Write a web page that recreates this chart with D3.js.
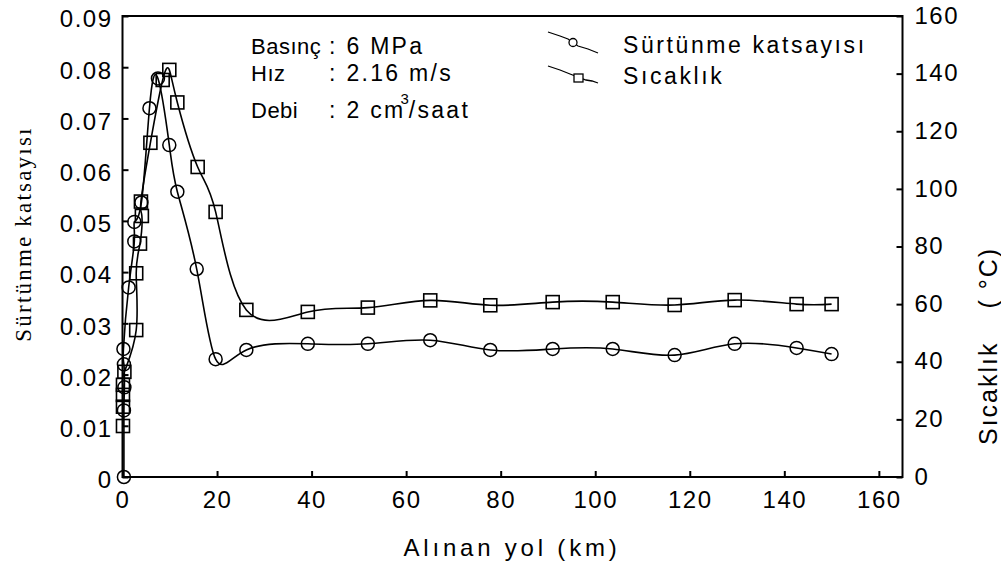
<!DOCTYPE html>
<html>
<head>
<meta charset="utf-8">
<script src="https://cdn.jsdelivr.net/npm/d3@7"></script>
<style>
  body { margin: 0; background: #fff; }
  text { font-family: "Liberation Sans", Arial, sans-serif; fill: #000; }
</style>
</head>
<body>
<svg id="chart" width="1001" height="567"></svg>
<script>
// friction coefficient (circles, left axis)
var kmFriction = [0.3, 0.3, 0.4, 0.3, 0.2, 1.3, 2.5, 2.5, 4.0, 5.7, 7.5, 9.9, 11.6, 15.7, 19.7, 26.2, 39.2, 51.9, 65.1, 77.8, 91.0, 103.7, 116.8, 129.5, 142.6, 150.0];
var friction = [0, 0.013, 0.0175, 0.022, 0.025, 0.037, 0.046, 0.0498, 0.0536, 0.072, 0.0778, 0.0648, 0.0557, 0.0406, 0.0230, 0.0248, 0.0260, 0.0260, 0.0267, 0.0248, 0.0250, 0.0250, 0.0238, 0.0260, 0.0252, 0.0240];

// temperature (squares, right axis)
var kmTemp = [0.1, 0.1, 0.1, 0.1, 0.4, 2.9, 2.9, 3.7, 4.1, 3.9, 5.9, 8.5, 9.9, 11.6, 15.9, 19.7, 26.2, 39.2, 51.9, 65.1, 77.8, 91.0, 103.7, 116.8, 129.5, 142.6, 150.0];
var temp = [17.7, 24.4, 28.5, 32, 36.5, 51, 70.7, 81, 90.6, 95.6, 116, 137.8, 141.3, 130, 107.6, 92, 58, 57.3, 58.8, 61.3, 59.6, 60.7, 60.7, 59.7, 61.4, 60, 60];

var xTicks = [0, 20, 40, 60, 80, 100, 120, 140, 160];
var leftTicks = [0, 0.01, 0.02, 0.03, 0.04, 0.05, 0.06, 0.07, 0.08, 0.09];
var rightTicks = [0, 20, 40, 60, 80, 100, 120, 140, 160];

var infoLabels = ["Basınç", "Hız", "Debi"];
var infoValues = [": 6 MPa", ": 2.16 m/s", ": 2 cm"];
var legendNames = ["Sürtünme katsayısı", "Sıcaklık"];

var svg = d3.select("#chart");

var x = d3.scaleLinear().domain([0, 165]).range([122.5, 902.5]);
var yL = d3.scaleLinear().domain([0, 0.09]).range([477, 16]);
var yR = d3.scaleLinear().domain([0, 160]).range([477, 16]);

// frame
svg.append("rect")
    .attr("x", x(0)).attr("y", yL(0.09))
    .attr("width", x(165) - x(0)).attr("height", yL(0) - yL(0.09))
    .attr("fill", "none").attr("stroke", "#000").attr("stroke-width", 2);

// axes with inward ticks
var axB = svg.append("g").attr("transform", "translate(0," + yL(0) + ")")
    .call(d3.axisBottom(x).tickValues(xTicks).tickSizeInner(-6).tickSizeOuter(0).tickPadding(14));
var axL = svg.append("g").attr("transform", "translate(" + x(0) + ",0)")
    .call(d3.axisLeft(yL).tickValues(leftTicks).tickSizeInner(-6).tickSizeOuter(0).tickPadding(10)
      .tickFormat(function(d) { return d === 0 ? "0" : d3.format(".2f")(d); }));
var axR = svg.append("g").attr("transform", "translate(" + x(165) + ",0)")
    .call(d3.axisRight(yR).tickValues(rightTicks).tickSizeInner(-6).tickSizeOuter(0).tickPadding(12));

[axB, axL, axR].forEach(function(a) {
  a.select(".domain").remove();
  a.selectAll(".tick line").attr("stroke", "#000").attr("stroke-width", 2);
  a.selectAll(".tick text").attr("font-size", 24).attr("font-family", "Liberation Sans, Arial, sans-serif")
    .attr("letter-spacing", 1.5).attr("fill", "#222");
});
axL.selectAll(".tick text").attr("dy", "0.45em");
axR.selectAll(".tick text").attr("dy", "0.3em");

// series
var fPts = kmFriction.map(function(k, i) { return [x(k), yL(friction[i])]; });
var tPts = kmTemp.map(function(k, i) { return [x(k), yR(temp[i])]; });

var line = d3.line().curve(d3.curveNatural);

svg.append("path").attr("d", line(fPts))
    .attr("fill", "none").attr("stroke", "#000").attr("stroke-width", 1.6);
svg.append("path").attr("d", line(tPts))
    .attr("fill", "none").attr("stroke", "#000").attr("stroke-width", 1.6);

svg.selectAll(".fdot").data(fPts).enter().append("circle")
    .attr("class", "fdot")
    .attr("cx", function(d) { return d[0]; }).attr("cy", function(d) { return d[1]; })
    .attr("r", 6.5).attr("fill", "none").attr("stroke", "#000").attr("stroke-width", 1.5);

svg.selectAll(".tsq").data(tPts).enter().append("rect")
    .attr("class", "tsq")
    .attr("x", function(d) { return d[0] - 6.5; }).attr("y", function(d) { return d[1] - 6.5; })
    .attr("width", 13).attr("height", 13)
    .attr("fill", "none").attr("stroke", "#000").attr("stroke-width", 1.6);

// info block
var infoY = [54, 81, 118];
var info = svg.append("g").attr("font-size", 22).attr("letter-spacing", 0.5);
infoLabels.forEach(function(t, i) {
  info.append("text").attr("x", 251).attr("y", infoY[i]).text(t);
});
infoValues.forEach(function(t, i) {
  var tx = info.append("text").attr("x", 329).attr("y", infoY[i])
      .attr("font-size", 23).attr("letter-spacing", 2.3).text(t);
  if (i === 2) {
    tx.append("tspan").attr("dx", -5).attr("dy", -14).attr("font-size", 15).attr("letter-spacing", 0).text("3");
    tx.append("tspan").attr("dy", 14).text("/saat");
  }
});

// legend
var legend = svg.append("g");
var legendLines = [
  [[548, 32], [560, 36], [568, 39], [578, 46], [588, 49], [598, 53]],
  [[548, 66], [560, 70], [570, 74], [586, 80], [592, 81], [598, 83]]
];
var legendTextY = [53, 84];
[0, 1].forEach(function(i) {
  legend.append("path").attr("d", d3.line()(legendLines[i]))
      .attr("fill", "none").attr("stroke", "#000").attr("stroke-width", 1.3);
  if (i === 0) {
    legend.append("circle").attr("cx", 573).attr("cy", 42.5).attr("r", 4)
        .attr("fill", "#fff").attr("stroke", "#000").attr("stroke-width", 1.3);
  } else {
    legend.append("rect").attr("x", 574).attr("y", 74).attr("width", 9).attr("height", 8)
        .attr("fill", "#fff").attr("stroke", "#000").attr("stroke-width", 1.3);
  }
  legend.append("text").attr("x", 623).attr("y", legendTextY[i]).attr("font-size", 23)
      .attr("letter-spacing", 2.6).text(legendNames[i]);
});

// axis titles
svg.append("text").attr("x", 512).attr("y", 556).attr("text-anchor", "middle")
    .attr("font-size", 24).attr("letter-spacing", 3.8).text("Alınan yol (km)");

svg.append("text")
    .attr("transform", "translate(31,234) rotate(-90)")
    .attr("text-anchor", "middle")
    .attr("font-size", 23).attr("letter-spacing", 2.2)
    .style("font-family", "'Liberation Serif', 'Times New Roman', serif")
    .text("Sürtünme katsayısı");

var rt = svg.append("text")
    .attr("transform", "translate(997,445) rotate(-90)")
    .attr("font-size", 25).attr("letter-spacing", 2);
rt.append("tspan").text("Sıcaklık");
rt.append("tspan").attr("dx", 33).text("( °C)");
</script>
</body>
</html>
